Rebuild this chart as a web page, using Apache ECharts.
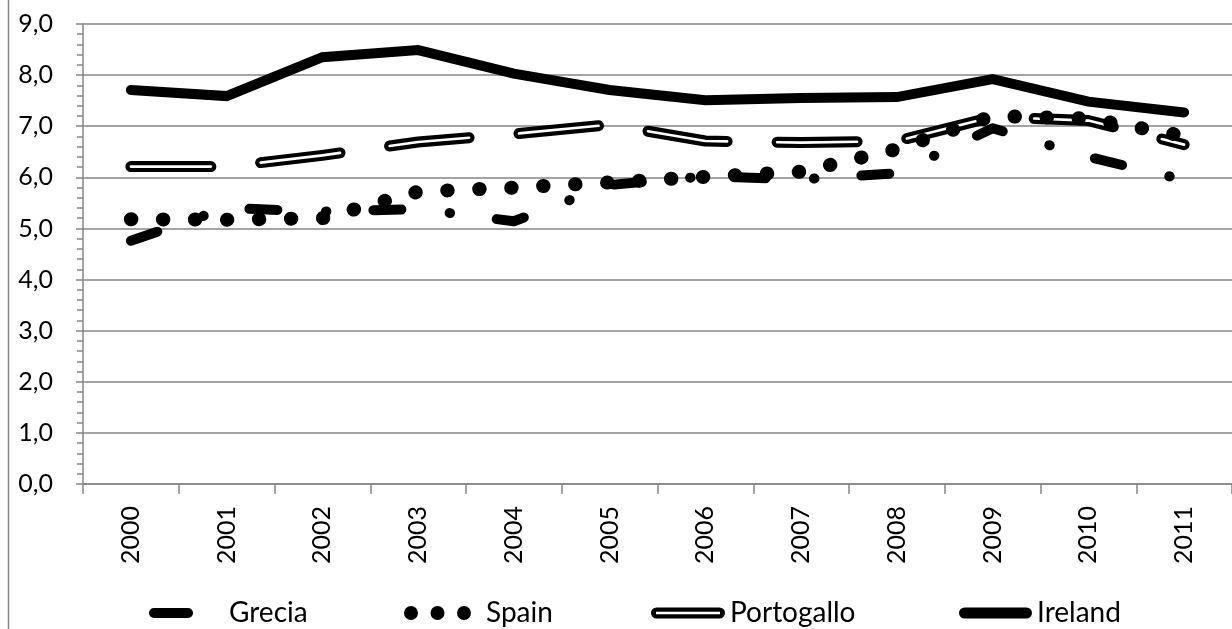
<!DOCTYPE html>
<html>
<head>
<meta charset="utf-8">
<script src="https://cdn.jsdelivr.net/npm/echarts@6/dist/echarts.min.js"></script>
<style>
  html, body { margin: 0; padding: 0; background: #fff; }
  #chart { width: 1232px; height: 629px; }
</style>
</head>
<body>
<div id="chart"></div>
<script>
const categories = ['2000', '2001', '2002', '2003', '2004', '2005', '2006', '2007', '2008', '2009', '2010', '2011'];
const grecia     = [4.76, 5.40, 5.33, 5.38, 5.14, 5.85, 6.02, 5.96, 6.08, 6.96, 6.40, 5.95];
const spain      = [5.18, 5.17, 5.20, 5.72, 5.80, 5.90, 6.01, 6.11, 6.55, 7.20, 7.15, 6.81];
const portogallo = [6.21, 6.21, 6.43, 6.69, 6.85, 7.03, 6.71, 6.68, 6.71, 7.18, 7.11, 6.64];
const ireland    = [7.71, 7.59, 8.35, 8.49, 8.03, 7.71, 7.51, 7.55, 7.57, 7.92, 7.48, 7.27];
const yTickLabels = ['0,0', '1,0', '2,0', '3,0', '4,0', '5,0', '6,0', '7,0', '8,0', '9,0'];
const seriesNames = ['Grecia', 'Spain', 'Portogallo', 'Ireland'];

const GRAY = '#868686';
const FONT = 'Lato';

const chart = echarts.init(document.getElementById('chart'), null, { renderer: 'canvas' });

function legendFor(name, left, itemWidth, itemHeight, icon, padLeft) {
  return {
    data: [{ name: name, icon: icon }],
    left: left, top: 599, padding: 0,
    itemWidth: itemWidth, itemHeight: itemHeight,
    selectedMode: false,
    itemStyle: { color: '#000', borderWidth: 0 },
    textStyle: { fontFamily: FONT, fontSize: 28, color: '#000', padding: [0, 0, 0, padLeft] }
  };
}

const option = {
  animation: false,
  backgroundColor: '#fff',
  graphic: [{
    type: 'line', silent: true,
    shape: { x1: 8.5, y1: 0, x2: 8.5, y2: 629 },
    style: { stroke: GRAY, lineWidth: 1.5 }
  }],
  legend: [
    legendFor(seriesNames[0], 149, 44, 10, 'path://M5,0L39,0A5,5,0,0,1,39,10L5,10A5,5,0,0,1,5,0Z', 31),
    legendFor(seriesNames[1], 404, 67, 14, 'path://M0,7A7,7,0,1,0,14,7A7,7,0,1,0,0,7Z M26.5,7A7,7,0,1,0,40.5,7A7,7,0,1,0,26.5,7Z M53,7A7,7,0,1,0,67,7A7,7,0,1,0,53,7Z', 10),
    legendFor(seriesNames[2], 651, 74, 11, 'path://M5.5,0L68.5,0A5.5,5.5,0,0,1,68.5,11L5.5,11A5.5,5.5,0,0,1,5.5,0Z M5,4.2L5,6.8L69,6.8L69,4.2Z', 0),
    legendFor(seriesNames[3], 959, 73, 11, 'path://M5.5,0L67.5,0A5.5,5.5,0,0,1,67.5,11L5.5,11A5.5,5.5,0,0,1,5.5,0Z', 0)
  ],
  grid: { left: 83, right: -2, top: 24, bottom: 145, containLabel: false },
  xAxis: {
    type: 'category',
    data: categories,
    boundaryGap: true,
    axisLine: { show: true, lineStyle: { color: GRAY, width: 1.5 } },
    axisTick: { show: true, length: 10, lineStyle: { color: GRAY, width: 1.5 } },
    axisLabel: { rotate: 90, margin: 22, color: '#000', fontFamily: FONT, fontSize: 25 },
    splitLine: { show: false }
  },
  yAxis: {
    type: 'value',
    min: 0, max: 9, interval: 1,
    axisLine: { show: true, lineStyle: { color: GRAY, width: 1.5 } },
    axisTick: { show: true, length: 7, lineStyle: { color: GRAY, width: 1.5 } },
    minorTick: { show: true, splitNumber: 5, length: 6, lineStyle: { color: GRAY, width: 1.5 } },
    axisLabel: {
      margin: 30, color: '#000', fontFamily: FONT, fontSize: 25,
      formatter: function (v) { return yTickLabels[Math.round(v)]; }
    },
    splitLine: { show: true, lineStyle: { color: GRAY, width: 1.5 } }
  },
  series: [
    {
      name: seriesNames[0], type: 'line', data: grecia, symbol: 'none', silent: true,
      lineStyle: { color: '#000', width: 10, type: [28, 48.5, 0.5, 47], cap: 'round', join: 'round' },
      itemStyle: { color: '#000' }, emphasis: { disabled: true }
    },
    {
      name: seriesNames[2], type: 'line', data: portogallo, symbol: 'none', silent: true,
      lineStyle: { color: '#000', width: 11, type: [80, 50], cap: 'round', join: 'round' },
      itemStyle: { color: '#000' }, emphasis: { disabled: true }
    },
    {
      name: seriesNames[2] + ' ', type: 'line', data: portogallo, symbol: 'none', silent: true,
      lineStyle: { color: '#fff', width: 2.6, type: [80, 50], cap: 'round', join: 'round' },
      itemStyle: { color: '#fff' }, emphasis: { disabled: true }
    },
    {
      name: seriesNames[1], type: 'line', data: spain, symbol: 'none', silent: true,
      lineStyle: { color: '#000', width: 14, type: [0.5, 31.5], cap: 'round', join: 'round' },
      itemStyle: { color: '#000' }, emphasis: { disabled: true }
    },
    {
      name: seriesNames[3], type: 'line', data: ireland, symbol: 'none', silent: true,
      lineStyle: { color: '#000', width: 10, type: 'solid', cap: 'round', join: 'miter' },
      itemStyle: { color: '#000' }, emphasis: { disabled: true }
    }
  ]
};

chart.setOption(option);
</script>
</body>
</html>
